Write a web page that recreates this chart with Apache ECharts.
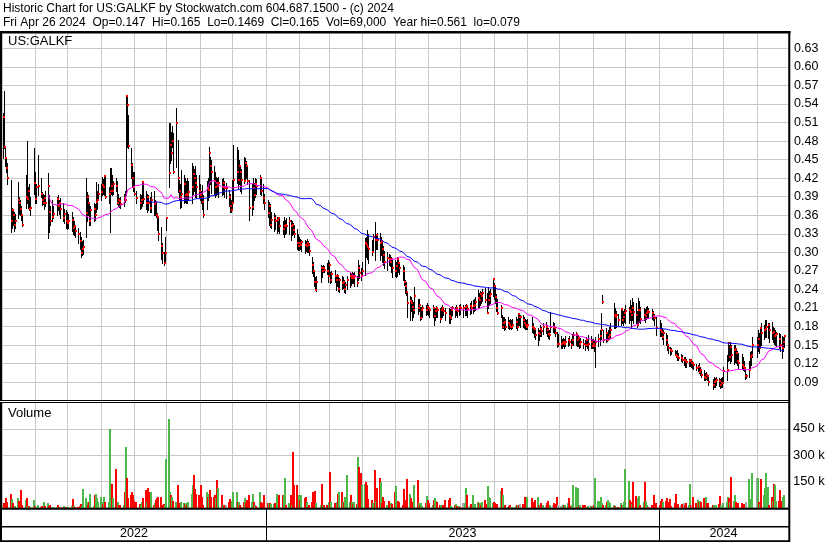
<!DOCTYPE html>
<html><head><meta charset="utf-8">
<script src="https://cdn.jsdelivr.net/npm/echarts@6/dist/echarts.min.js"></script>
<style>html,body{margin:0;padding:0;background:#fff;}#chart{width:830px;height:543px;}</style>
</head><body><div id="chart"></div>
<script>
// ---------------- text ----------------
const TITLE_LINE_1 = 'Historic Chart for US:GALKF by Stockwatch.com 604.687.1500 - (c) 2024';
const TITLE_LINE_2 = 'Fri Apr 26 2024  Op=0.147  Hi=0.165  Lo=0.1469  Cl=0.165  Vol=69,000  Year hi=0.561  lo=0.079';
const SYMBOL_LABEL = 'US:GALKF';
const VOLUME_LABEL = 'Volume';
const YEAR_LABELS = ['2022', '2023', '2024'];

// ---------------- calendar ----------------
const AXIS_START = [2022, 5, 1];
const AXIS_END = [2024, 4, 30];
const FIRST_DAY = [2022, 5, 2];
const LAST_DAY = [2024, 4, 26];
const HOLIDAYS = ['2022-05-30','2022-06-20','2022-07-04','2022-09-05','2022-11-24','2022-12-26',
  '2023-01-02','2023-01-16','2023-02-20','2023-04-07','2023-05-29','2023-06-19','2023-07-04',
  '2023-09-04','2023-11-23','2023-12-25','2024-01-01','2024-01-15','2024-02-19','2024-03-29'];

// ---------------- daily high / low / close (in thousandths of a dollar) ----------------
const HLC = [
// May 2022
[525,453,519],[561,469,470],[472,440,452],[455,430,437],[445,410,420],
[417,333,350],[372,340,368],[368,344,360],[365,335,344],[362,340,350],
[414,355,385],[390,362,380],[385,360,370],[375,352,360],[362,343,345],
[425,372,390],[480,380,386],[405,372,400],[410,368,370],[390,360,372],
[469,395,413],
// Jun 2022
[430,380,386],[410,380,405],[457,393,408],
[420,390,395],[397,377,385],[395,378,380],[392,370,388],[400,375,380],
[428,323,408],[393,333,365],[375,345,350],[385,350,357],[375,355,362],
[390,360,386],[392,368,375],[385,362,380],[388,355,370],
[380,350,356],[370,348,362],[368,340,350],[365,338,348],
// Jul 2022
[362,340,350],
[365,335,352],[358,330,340],[350,328,342],[344,325,335],
[340,315,330],[333,305,318],[325,292,299],[318,295,305],[320,298,309],
[420,325,364],[397,350,390],[392,360,380],[382,345,350],[375,345,368],
[380,350,370],[378,352,360],[414,365,382],[400,370,385],[410,385,395],
// Aug 2022
[410,385,398],[422,393,409],[418,395,405],[425,392,424],[424,388,390],
[405,380,395],[436,333,400],[436,395,408],[425,393,400],[415,395,410],
[420,400,408],[415,378,380],[395,375,385],[388,373,383],[390,372,378],
[395,375,388],[400,382,384],[555,393,553],[552,470,538],[522,469,472],
[469,420,441],[445,405,420],[430,400,405],
// Sep 2022
[430,393,395],[400,380,388],
[395,370,380],[392,372,385],[414,375,414],[414,380,386],
[400,370,380],[395,365,390],[392,368,380],[390,365,372],[398,365,385],
[400,360,378],[385,360,382],[382,358,360],[363,336,358],[355,320,330],
[341,290,311],[315,282,299],[300,280,282],[325,283,299],[357,336,355],
// Oct 2022
[509,406,428],[509,444,474],[495,450,460],[505,470,480],[493,428,430],
[533,438,510],[482,398,420],[417,385,400],[410,372,390],[433,373,395],
[425,380,410],[420,382,392],[415,380,395],[420,380,392],[415,385,398],
[444,380,406],[440,395,426],[435,400,420],[440,390,412],[425,388,405],
[425,390,400],
// Nov 2022
[410,385,392],[400,380,388],[409,370,382],[392,357,360],
[415,370,404],[420,385,401],[470,390,460],[455,410,440],[450,396,430],
[440,395,415],[430,390,405],[422,392,412],[420,395,408],[422,390,412],
[418,392,405],[420,395,412],[415,390,404],[412,388,404],
[401,375,390],[395,365,375],[385,365,368],
// Dec 2022
[417,368,380],[474,380,417],
[470,412,430],[466,404,417],[450,410,440],[438,400,430],[435,396,417],
[455,412,416],[452,415,445],[448,420,440],[440,410,416],[417,352,372],
[410,360,374],[420,370,404],[412,385,392],[420,390,410],[418,395,408],
[425,395,420],[418,392,400],[410,380,388],[395,370,380],
// Jan 2023
[385,357,363],[382,345,375],[378,341,344],[365,340,352],
[363,335,355],[360,338,350],[358,331,352],[358,335,355],[356,332,342],
[350,330,338],[357,325,342],[352,330,345],[355,332,342],
[358,330,350],[352,320,342],[350,328,345],[348,330,336],[345,325,330],
[338,305,315],[330,304,310],
// Feb 2023
[325,304,315],[322,305,312],[320,302,316],
[320,299,312],[318,302,310],[322,300,315],[318,300,312],[315,295,303],
[292,266,280],[285,262,270],[272,245,252],[260,239,239],[262,238,252],
[280,252,274],[278,260,270],[280,268,274],[278,268,272],
[282,265,270],[287,252,262],
// Mar 2023
[285,262,280],[268,250,255],[270,252,265],
[272,252,262],[263,239,255],[265,245,262],[262,238,241],[258,236,255],
[262,240,250],[260,242,252],[255,236,241],[252,234,248],[262,240,255],
[266,244,262],[265,248,258],[268,250,262],[266,250,258],[268,245,262],
[262,245,250],[288,255,275],[280,258,267],[275,255,262],[285,262,270],
// Apr 2023
[323,263,315],[325,292,312],[336,290,308],[330,283,305],
[320,295,300],[330,300,325],[349,288,320],[330,305,328],[332,305,320],
[331,288,315],[325,295,318],[318,285,305],[310,280,295],[302,275,285],
[300,272,291],[298,280,290],[295,278,285],[292,268,290],[290,260,275],
// May 2023
[288,262,270],[285,260,278],[292,262,290],[290,268,282],[285,265,275],
[280,255,270],[277,248,252],[255,235,245],[252,231,236],[234,195,218],
[230,191,222],[228,205,218],[223,191,212],[220,195,207],[244,202,230],
[225,200,210],[225,205,215],[212,191,194],[212,192,207],[215,195,210],
[215,198,207],[218,200,212],
// Jun 2023
[215,198,210],[212,196,207],
[215,195,210],[212,182,197],[210,190,205],[214,195,210],[212,195,207],
[210,188,193],[212,192,207],[215,195,210],[212,198,205],[210,190,202],
[210,186,197],[208,186,194],[212,192,207],[214,198,210],
[212,195,207],[215,198,210],[212,195,205],[215,198,212],[216,200,210],
// Jul 2023
[215,195,210],
[215,198,212],[216,198,214],[214,195,208],
[218,200,213],[222,202,210],[223,202,213],[225,205,215],[228,207,220],
[239,211,226],[235,212,223],[238,215,233],[236,218,230],[240,222,234],
[242,220,223],[234,202,202],[244,210,223],[238,215,230],[240,218,232],
[258,230,257],
// Aug 2023
[250,225,245],[245,218,228],[232,205,210],[225,200,202],
[215,195,210],[199,178,180],[195,178,185],[195,175,188],[192,176,180],
[195,178,185],[190,176,183],[192,178,180],[190,176,180],[192,178,183],
[195,178,188],[192,175,180],[202,180,200],[200,182,195],[198,180,195],
[198,180,190],[195,178,185],[192,176,182],[190,176,180],
// Sep 2023
[192,176,182],
[195,172,180],[185,170,178],[179,163,176],[178,160,166],
[178,150,170],[175,158,168],[182,165,176],[180,165,173],[185,168,180],
[188,170,180],[182,165,175],[178,162,168],[175,160,166],[204,171,180],
[188,172,180],[185,170,178],[180,165,170],[171,147,152],[168,148,152],
// Oct 2023
[165,145,152],[160,146,153],[162,148,155],[160,146,152],[165,148,155],
[162,148,158],[165,150,155],[160,145,150],[168,150,158],[171,150,166],
[172,150,168],[168,148,158],[166,148,162],[160,145,152],[162,147,155],
[160,145,152],[158,142,150],[163,148,158],[160,145,150],[166,142,152],
[164,146,155],[160,145,148],
// Nov 2023
[160,145,152],[158,140,148],[163,115,155],
[168,148,160],[175,150,165],[202,160,175],[231,218,220],[175,155,158],
[178,155,170],[172,156,158],[175,158,163],[180,160,167],[185,162,175],
[218,178,199],[210,178,195],[205,180,199],[200,182,191],
[210,183,208],[208,185,190],[205,182,196],[208,188,202],
// Dec 2023
[215,185,205],
[212,185,207],[223,190,203],[215,178,199],[226,190,210],[220,185,203],
[218,185,199],[205,180,183],[226,186,206],[222,188,207],[212,186,193],
[210,190,199],[208,188,197],[212,192,202],[214,195,205],[210,194,204],
[208,192,202],[205,190,197],[200,182,194],[195,166,178],
// Jan 2024
[190,165,175],[185,165,172],[178,160,163],[175,152,170],
[170,150,158],[166,142,150],[152,138,145],[147,134,142],[146,135,140],
[142,134,134],[140,130,132],[142,126,131],[138,126,129],
[136,124,129],[134,122,126],[131,118,126],[130,115,124],[128,115,122],
[128,117,124],[128,116,126],[125,115,121],
// Feb 2024
[124,113,121],[123,112,118],
[120,110,113],[118,108,115],[121,105,107],[115,102,110],[112,98,102],
[110,94,98],[105,94,97],[106,95,102],[104,94,100],[98,85,90],
[95,79,85],[98,82,90],[96,83,92],[98,85,94],
[97,84,92],[95,81,85],[96,82,88],[98,82,88],
// Mar 2024
[115,90,108],
[134,94,110],[155,125,153],[150,126,131],[155,121,147],[150,125,134],
[150,120,142],[150,122,144],[145,121,137],[140,118,124],[137,113,121],
[135,112,118],[131,110,115],[125,108,113],[112,95,100],[104,97,100],
[125,98,110],[139,110,131],[140,118,134],[163,131,150],
// Apr 2024
[163,131,150],[175,140,160],[170,137,145],[180,145,178],[186,150,170],
[182,160,174],[190,163,176],[190,163,180],[186,162,183],[186,155,174],
[187,160,170],[180,155,172],[178,152,164],[175,150,166],[172,148,168],
[170,145,160],[168,140,150],[165,129,145],[163,140,155],[165,147,165]
];

// ---------------- daily volume (thousands of shares) ----------------
const VOLUME_K = [
24,24,15,52,30,77,48,24,10,8,52,37,20,99,14,43,52,10,8,5,43,
8,5,14,5,8,5,29,10,24,8,14,5,5,5,14,5,3,5,8,3,5,
5,8,48,10,5,5,8,20,10,105,52,29,14,33,80,10,71,80,52,30,
62,33,20,62,33,33,450,62,137,52,218,33,33,14,14,14,86,345,166,52,71,86,71,
37,29,19,14,33,52,99,33,109,90,90,14,24,43,52,62,62,14,20,14,280,
503,86,71,62,40,30,131,5,24,33,24,19,24,14,33,80,128,188,105,80,71,
71,128,62,14,90,62,80,99,62,62,71,52,156,109,71,14,14,14,33,48,30,
40,90,90,33,29,14,5,33,52,24,43,71,33,80,33,14,10,86,33,24,71,
24,24,24,19,19,24,80,24,71,71,71,166,14,24,71,14,320,128,128,71,
71,43,71,52,62,33,5,14,29,90,24,94,24,14,137,14,14,14,10,
30,204,33,24,14,33,80,86,90,33,33,62,188,33,71,33,20,33,20,288,232,200,131,
137,143,128,48,43,24,213,37,109,170,143,24,62,37,14,37,14,24,20,
90,124,14,37,33,14,103,43,43,162,75,52,30,20,131,156,24,14,24,8,24,65,
43,24,14,43,52,37,33,14,14,5,14,43,43,56,8,5,14,18,8,10,5,
24,24,113,71,8,18,71,14,18,33,24,24,14,33,43,20,123,62,52,24,
30,24,14,18,94,109,71,8,14,5,10,14,5,5,10,14,14,14,18,18,18,62,20,
62,52,14,33,43,62,14,14,24,14,14,24,37,14,14,14,24,20,62,14,
8,5,14,14,14,24,52,10,14,131,118,5,109,8,14,14,14,5,5,10,10,5,
10,14,170,37,37,62,24,14,14,33,43,33,24,14,8,5,5,24,14,14,33,
218,150,43,33,20,143,67,24,52,67,14,33,147,37,14,5,14,5,71,24,
14,37,48,33,37,52,29,48,8,24,80,14,18,14,18,24,14,24,14,137,14,
14,62,24,43,29,37,33,52,24,62,24,24,14,14,14,14,18,65,14,14,
24,33,62,56,29,175,37,71,33,18,24,24,14,20,14,33,162,48,5,195,
166,170,33,20,162,71,109,200,118,14,62,37,137,131,37,37,99,40,62,69
];

const MA_PERIODS = [30, 92];
const PRICE_MIN = 0.06, PRICE_MAX = 0.66, PRICE_STEP = 0.03;
const VOL_MAX = 600000, VOL_STEP = 150000;

// ---------------- build ----------------
function pad(n) { return String(n).padStart(2, '0'); }
function buildDates() {
  const hs = new Set(HOLIDAYS);
  const out = [];
  let d = new Date(FIRST_DAY[0], FIRST_DAY[1] - 1, FIRST_DAY[2]);
  const end = new Date(LAST_DAY[0], LAST_DAY[1] - 1, LAST_DAY[2]);
  while (d <= end) {
    const wd = d.getDay();
    const key = d.getFullYear() + '-' + pad(d.getMonth() + 1) + '-' + pad(d.getDate());
    if (wd !== 0 && wd !== 6 && !hs.has(key)) out.push(d.getTime());
    d = new Date(d.getFullYear(), d.getMonth(), d.getDate() + 1);
  }
  return out;
}
const dates = buildDates();
const high = HLC.map(r => r[0] / 1000);
const low = HLC.map(r => r[1] / 1000);
const close = HLC.map(r => r[2] / 1000);
const volume = VOLUME_K.map(v => v * 1000);

function sma(period) {
  const out = [];
  let sum = 0;
  for (let i = 0; i < close.length; i++) {
    sum += close[i];
    if (i >= period) sum -= close[i - period];
    out.push([dates[i], i >= period - 1 ? +(sum / period).toFixed(4) : null]);
  }
  return out;
}

const axisMin = new Date(AXIS_START[0], AXIS_START[1] - 1, AXIS_START[2]).getTime();
const axisMax = new Date(AXIS_END[0], AXIS_END[1] - 1, AXIS_END[2]).getTime();
const DAY = 864e5;

const FONT = '"Liberation Sans", Arial, sans-serif';
const GRID_COLOR = '#c8c8c8';

const chart = echarts.init(document.getElementById('chart'), null, { renderer: 'canvas' });

const xAxisCommon = {
  type: 'time', min: axisMin, max: axisMax,
  splitNumber: 24, minInterval: 28 * DAY, maxInterval: 31 * DAY,
  axisLine: { show: false }, axisTick: { show: false }, axisLabel: { show: false },
  splitLine: { show: true, lineStyle: { color: GRID_COLOR, width: 1 } }
};

const option = {
  animation: false,
  backgroundColor: '#fff',
  grid: [
    { left: 2, width: 786, top: 29.8, height: 370.95 },
    { left: 2, width: 786, top: 402.5, height: 105 }
  ],
  xAxis: [
    Object.assign({ gridIndex: 0 }, xAxisCommon),
    Object.assign({ gridIndex: 1 }, xAxisCommon)
  ],
  yAxis: [
    {
      gridIndex: 0, type: 'value', position: 'right', min: PRICE_MIN, max: PRICE_MAX, interval: PRICE_STEP,
      axisLine: { show: false }, axisTick: { show: false },
      axisLabel: {
        margin: 6, color: '#000', fontFamily: FONT, fontSize: 12.5,
        formatter: v => (Math.abs(v - PRICE_MIN) < 1e-6 || Math.abs(v - PRICE_MAX) < 1e-6) ? '' : v.toFixed(2)
      },
      splitLine: { show: true, lineStyle: { color: GRID_COLOR, width: 1 } }
    },
    {
      gridIndex: 1, type: 'value', position: 'right', min: 0, max: VOL_MAX, interval: VOL_STEP,
      axisLine: { show: false }, axisTick: { show: false },
      axisLabel: {
        margin: 5, color: '#000', fontFamily: FONT, fontSize: 13,
        formatter: v => (v <= 0 || v >= VOL_MAX) ? '' : (v / 1000) + ' k'
      },
      splitLine: { show: true, lineStyle: { color: GRID_COLOR, width: 1 } }
    }
  ],
  series: [
    {
      name: 'range', type: 'custom', xAxisIndex: 0, yAxisIndex: 0, z: 2,
      data: dates.map((t, i) => [t, high[i], low[i]]),
      encode: { x: 0, y: [1, 2] },
      renderItem: (params, api) => {
        const t = api.value(0);
        const a = api.coord([t, api.value(1)]);
        const b = api.coord([t, api.value(2)]);
        const x = Math.round(a[0]);
        const y1 = Math.round(a[1]), y2 = Math.round(b[1]);
        return { type: 'rect', shape: { x: x, y: y1, width: 1, height: Math.max(1, y2 - y1 + 1) }, style: { fill: '#000' } };
      }
    },
    {
      name: 'close', type: 'custom', xAxisIndex: 0, yAxisIndex: 0, z: 3,
      data: dates.map((t, i) => [t, close[i]]),
      encode: { x: 0, y: 1 },
      renderItem: (params, api) => {
        const p = api.coord([api.value(0), api.value(1)]);
        const x = Math.round(p[0]);
        const y = Math.round(p[1]);
        return { type: 'rect', shape: { x: x, y: y - 1, width: 2, height: 2 }, style: { fill: '#ff0000' } };
      }
    },
    {
      name: 'MA' + MA_PERIODS[0], type: 'line', xAxisIndex: 0, yAxisIndex: 0, z: 4,
      data: sma(MA_PERIODS[0]), showSymbol: false, symbol: 'none',
      lineStyle: { color: '#ff00ff', width: 1 }, connectNulls: false
    },
    {
      name: 'MA' + MA_PERIODS[1], type: 'line', xAxisIndex: 0, yAxisIndex: 0, z: 4,
      data: sma(MA_PERIODS[1]), showSymbol: false, symbol: 'none',
      lineStyle: { color: '#0000ff', width: 1 }, connectNulls: false
    },
    {
      name: 'volume', type: 'custom', xAxisIndex: 1, yAxisIndex: 1, z: 2,
      data: dates.map((t, i) => [t, volume[i], i === 0 ? 0 : Math.sign(close[i] - close[i - 1])]),
      encode: { x: 0, y: 1 },
      renderItem: (params, api) => {
        const t = api.value(0);
        const top = api.coord([t, api.value(1)]);
        const base = api.coord([t, 0]);
        const x = Math.round(top[0]);
        const y1 = Math.round(top[1]);
        const y2 = Math.round(base[1]);
        const dir = api.value(2);
        const fill = dir > 0 ? '#4cb848' : (dir < 0 ? '#ff0000' : '#a8a8a8');
        return { type: 'rect', shape: { x: x - 1, y: y1, width: 2, height: Math.max(0, y2 - y1) }, style: { fill } };
      }
    }
  ]
};

chart.setOption(option);

// ---------------- frame, header and year band ----------------
const px = t => chart.convertToPixel({ xAxisIndex: 1 }, t);
const x2023 = Math.round(px(new Date(2023, 0, 1).getTime()));
const x2024 = Math.round(px(new Date(2024, 0, 1).getTime()));
const xL = 2, xR = 788;
const black = { fill: '#000' };
function rect(x, y, w, h, style) { return { type: 'rect', z: 100, shape: { x, y, width: w, height: h }, style }; }
function text(str, x, y, size, align) {
  return { type: 'text', z: 101, x, y, style: { text: str, fill: '#000', font: size + 'px ' + FONT, textAlign: align || 'left', align: align || 'left', textVerticalAlign: 'middle', verticalAlign: 'middle' } };
}
const g = [
  rect(0, 0, 830, 31, { fill: '#fff' }),
  text(TITLE_LINE_1, 3, 8.5, 12),
  text(TITLE_LINE_2, 3, 22.5, 12),
  rect(0, 31, 790.5, 2.5, black),
  rect(0, 31, 2, 511, black),
  rect(788.3, 31, 2, 511, black),
  rect(0, 400, 790, 1, black),
  rect(0, 401, 788, 1, { fill: '#fff' }),
  rect(0, 402, 790, 1, black),
  rect(0, 507.8, 790, 2, black),
  rect(0, 526, 790, 1.5, black),
  rect(0, 540.3, 790, 1.7, black),
  rect(x2023, 509, 1, 32, black),
  rect(x2024, 509, 1, 32, black),
  text(SYMBOL_LABEL, 8, 41, 13),
  text(VOLUME_LABEL, 8, 413, 13),
  text(YEAR_LABELS[0], (xL + x2023) / 2, 534, 12.5, 'center'),
  text(YEAR_LABELS[1], (x2023 + x2024) / 2, 534, 12.5, 'center'),
  text(YEAR_LABELS[2], (x2024 + xR) / 2, 534, 12.5, 'center')
];
if (dates.length !== HLC.length || dates.length !== VOLUME_K.length) {
  g.push(text('LEN MISMATCH ' + dates.length + ' ' + HLC.length + ' ' + VOLUME_K.length, 300, 100, 20));
}
chart.setOption({ graphic: g });
</script></body></html>
